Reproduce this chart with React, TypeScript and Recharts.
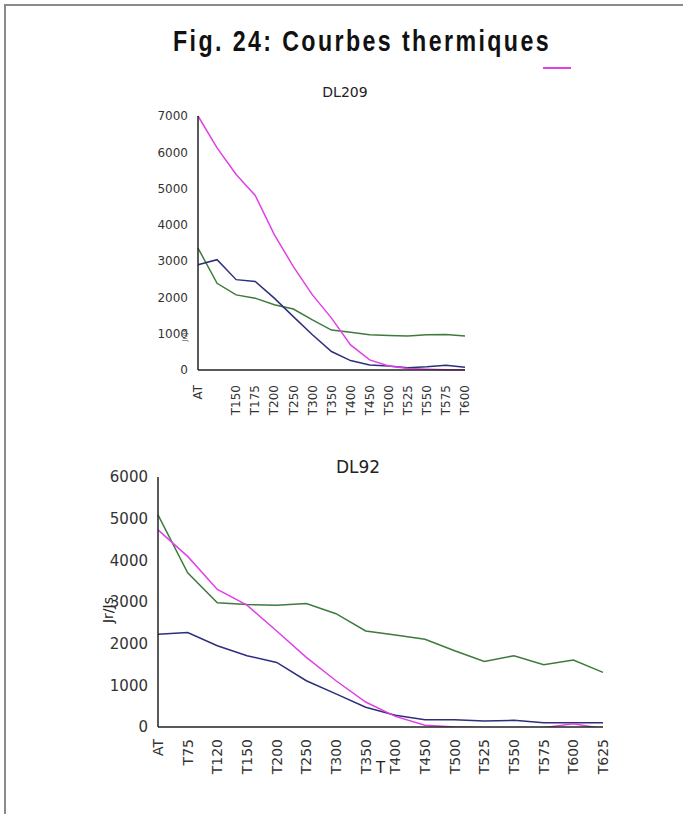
import React from 'react';
import { LineChart, Line, XAxis, YAxis } from 'recharts';

// DL209
const categories1 = ['AT', '', 'T150', 'T175', 'T200', 'T250', 'T300', 'T350', 'T400', 'T450', 'T500', 'T525', 'T550', 'T575', 'T600'];
const magenta1 = [7000, 6120, 5390, 4810, 3730, 2850, 2070, 1430, 690, 280, 110, 40, 20, 10, 10];
const blue1 = [2900, 3040, 2490, 2440, 1980, 1470, 970, 510, 260, 140, 110, 65, 90, 130, 75];
const green1 = [3360, 2390, 2070, 1980, 1800, 1680, 1380, 1100, 1040, 970, 950, 940, 970, 975, 940];
const yTicks1 = [0, 1000, 2000, 3000, 4000, 5000, 6000, 7000];

// DL92
const categories2 = ['AT', 'T75', 'T120', 'T150', 'T200', 'T250', 'T300', 'T350', 'T400', 'T450', 'T500', 'T525', 'T550', 'T575', 'T600', 'T625'];
const green2 = [5090, 3700, 2980, 2940, 2925, 2965, 2720, 2305, 2210, 2105, 1830, 1575, 1710, 1495, 1605, 1310];
const magenta2 = [4730, 4095, 3300, 2925, 2305, 1670, 1110, 600, 255, 40, 0, -15, -120, -15, 80, -40];
const blue2 = [2225, 2265, 1950, 1710, 1550, 1110, 795, 475, 280, 175, 175, 145, 160, 105, 105, 105];
const yTicks2 = [0, 1000, 2000, 3000, 4000, 5000, 6000];

const MAGENTA = '#e040e6';
const BLUE = '#2e2e7c';
const GREEN = '#3d7b3d';
const FONT = '"DejaVu Sans", Verdana, sans-serif';

const data1 = categories1.map((c, i) => ({ cat: c, m: magenta1[i], b: blue1[i], g: green1[i] }));
const data2 = categories2.map((c, i) => ({ cat: c, m: magenta2[i], b: blue2[i], g: green2[i] }));

const makeXTick = (size: number, gap: number) => (props: any) => {
  const { x, y, payload } = props;
  return (
    <text
      x={x}
      y={y + gap}
      transform={`rotate(-90 ${x} ${y + gap})`}
      textAnchor="end"
      dy="0.35em"
      fontSize={size}
      fontFamily={FONT}
      fill="#333"
    >
      {payload.value}
    </text>
  );
};

export default function App() {
  return (
    <div style={{ position: 'absolute', left: 0, top: 0, width: 683, height: 814, background: '#fff' }}>
      <div style={{ position: 'absolute', left: 4, top: 4, width: 679, height: 810, borderTop: '2px solid #8a8a8a', borderLeft: '2px solid #8a8a8a' }} />
      <div
        style={{
          position: 'absolute', left: 62, width: 600, top: 25, textAlign: 'center',
          fontFamily: '"Liberation Sans", Arial, sans-serif',
          fontWeight: 'bold', fontSize: 29, letterSpacing: 3, color: '#111',
          transform: 'scaleX(0.8)', transformOrigin: '300px 0',
        }}
      >
        Fig. 24: Courbes thermiques
      </div>
      <div style={{ position: 'absolute', left: 543, top: 67, width: 28, height: 2, background: MAGENTA }} />

      <div style={{ position: 'absolute', left: 120, top: 100 }}>
        <LineChart width={360} height={330} data={data1} margin={{ top: 16, right: 15, left: 0, bottom: 0 }}>
          <XAxis dataKey="cat" interval={0} tickLine={false} axisLine={{ stroke: '#222', strokeWidth: 1.5 }} height={60} tick={makeXTick(12, 7)} />
          <XAxis xAxisId="top" orientation="top" height={0} tick={false} tickLine={false} axisLine={{ stroke: '#222', strokeWidth: 1.5 }} />
          <YAxis domain={[0, 7000]} ticks={yTicks1} interval={0} width={78} tickLine={false} axisLine={{ stroke: '#222', strokeWidth: 1.5 }} tick={{ fontSize: 12, fontFamily: FONT, fill: '#333' }} tickMargin={4}
            label={{ content: () => (
              <text x={67} y={235} transform="rotate(-90 67 235)" textAnchor="middle" fontSize={7} fontFamily={FONT} fill="#333">Jr/Js</text>
            ) }}
          />
          <YAxis yAxisId="right" orientation="right" width={0} tick={false} tickLine={false} axisLine={{ stroke: '#222', strokeWidth: 1.5 }} />
          <Line dataKey="g" stroke={GREEN} strokeWidth={1.5} dot={false} isAnimationActive={false} />
          <Line dataKey="b" stroke={BLUE} strokeWidth={1.5} dot={false} isAnimationActive={false} />
          <Line dataKey="m" stroke={MAGENTA} strokeWidth={1.5} dot={false} isAnimationActive={false} />
        </LineChart>
        <div style={{ position: 'absolute', left: 0, width: 450, top: -16, textAlign: 'center', fontFamily: FONT, fontSize: 14, color: '#222' }}>DL209</div>
      </div>

      <div style={{ position: 'absolute', left: 60, top: 460 }}>
        <LineChart width={560} height={340} data={data2} margin={{ top: 17, right: 17, left: 0, bottom: 0 }}>
          <XAxis dataKey="cat" interval={0} tickLine={false} axisLine={{ stroke: '#222', strokeWidth: 1.5 }} height={73} tick={makeXTick(14, 4)}
            label={{ value: 'T', position: 'insideBottom', offset: 27, fontSize: 15, fontFamily: FONT, fill: '#222' }}
          />
          <XAxis xAxisId="top" orientation="top" height={0} tick={false} tickLine={false} axisLine={{ stroke: '#222', strokeWidth: 1.5 }} />
          <YAxis domain={[0, 6000]} ticks={yTicks2} interval={0} allowDataOverflow width={98} tickLine={false} axisLine={{ stroke: '#222', strokeWidth: 1.5 }} tick={{ fontSize: 15, fontFamily: FONT, fill: '#333' }} tickMargin={4}
            label={{ content: () => (
              <text x={53} y={150} transform="rotate(-90 53 150)" textAnchor="middle" fontSize={14} fontFamily={FONT} fill="#222">Jr/Js</text>
            ) }}
          />
          <YAxis yAxisId="right" orientation="right" width={0} tick={false} tickLine={false} axisLine={{ stroke: '#222', strokeWidth: 1.5 }} />
          <Line dataKey="g" stroke={GREEN} strokeWidth={1.5} dot={false} isAnimationActive={false} />
          <Line dataKey="b" stroke={BLUE} strokeWidth={1.5} dot={false} isAnimationActive={false} />
          <Line dataKey="m" stroke={MAGENTA} strokeWidth={1.5} dot={false} isAnimationActive={false} />
        </LineChart>
        <div style={{ position: 'absolute', left: 0, width: 596, top: -3, textAlign: 'center', fontFamily: FONT, fontSize: 17, color: '#222' }}>DL92</div>
      </div>
    </div>
  );
}
